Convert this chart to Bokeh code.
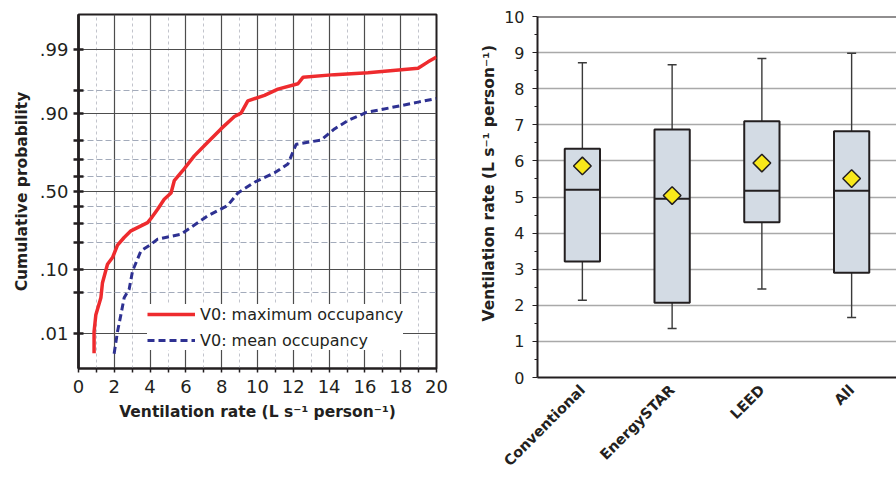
import math
from statistics import NormalDist

from bokeh.plotting import figure
from bokeh.layouts import row
from bokeh.models import (FixedTicker, Range1d, FactorRange, Legend,
                          LegendItem, ColumnDataSource, Span, Title)
from bokeh.embed import file_html
from bokeh.resources import INLINE

# ---------------- data: left panel (cumulative distributions) ----------------
max_occ_rate = [0.87, 0.87, 0.97, 1.25, 1.34, 1.62, 1.90, 2.18, 2.55, 2.93, 3.86, 4.05, 4.42,
                4.79, 5.17, 5.35, 5.82, 6.47, 7.22, 7.96, 8.71, 9.08, 9.46, 10.39, 11.14,
                12.26, 12.54, 14.3, 16.17, 18.97, 19.53, 20.0]
max_occ_prob = [0.0041, 0.011, 0.022, 0.041, 0.068, 0.117, 0.14, 0.19, 0.226, 0.26, 0.305, 0.33,
                0.386, 0.45, 0.49, 0.57, 0.633, 0.72, 0.79, 0.847, 0.89, 0.90, 0.931, 0.942,
                0.953, 0.961, 0.969, 0.972, 0.974, 0.978, 0.983, 0.986]

mean_occ_rate = [1.99, 2.18, 2.37, 2.55, 2.83, 3.02, 3.49, 4.05, 4.42, 5.17, 5.72, 6.28, 7.22,
                 8.34, 8.90, 9.83, 10.95, 11.70, 12.16, 13.56, 14.30, 15.05, 16.08, 18.04,
                 18.97, 20.0]
mean_occ_prob = [0.004, 0.011, 0.022, 0.041, 0.055, 0.097, 0.166, 0.194, 0.218, 0.232, 0.242,
                 0.278, 0.345, 0.41, 0.49, 0.56, 0.62, 0.674, 0.78, 0.80, 0.847, 0.877, 0.902,
                 0.92, 0.928, 0.936]

prob_major = [0.01, 0.10, 0.50, 0.90, 0.99]
prob_major_labels = [".01", ".10", ".50", ".90", ".99"]
prob_minor = [0.05, 0.20, 0.30, 0.40, 0.60, 0.70, 0.80, 0.95]
rate_ticks = list(range(0, 21, 2))
rate_minor = list(range(1, 20, 2))

# ---------------- data: right panel (box plots) ----------------
building_types = ["Conventional", "EnergySTAR", "LEED", "All"]
whisker_low = [2.14, 1.36, 2.45, 1.66]
quartile_1 = [3.21, 2.07, 4.30, 2.90]
median_rate = [5.20, 4.95, 5.17, 5.17]
quartile_3 = [6.34, 6.87, 7.10, 6.82]
whisker_high = [8.72, 8.66, 8.84, 8.98]
mean_rate = [5.86, 5.04, 5.94, 5.51]
box_ticks = list(range(0, 11))
box_minor = [v + 0.5 for v in range(0, 10)]

rate_title = "Ventilation rate (L s\u207b\u00b9 person\u207b\u00b9)"

FONT = "DejaVu Sans"
INK = "#231f20"
probit = NormalDist().inv_cdf

# ---------------- left panel ----------------
p1 = figure(width=460, height=477, x_range=Range1d(0, 20),
            y_range=Range1d(probit(0.0019), probit(0.9981)),
            output_backend="svg", toolbar_location=None, frame_align=False,
            min_border_left=78, min_border_right=24, min_border_top=14, min_border_bottom=109)
p1.background_fill_color = "white"
p1.outline_line_color = INK
p1.outline_line_width = 2

p1.xaxis.ticker = FixedTicker(ticks=rate_ticks, minor_ticks=rate_minor)
p1.yaxis.ticker = FixedTicker(ticks=[probit(v) for v in prob_major],
                              minor_ticks=[probit(v) for v in prob_minor])
p1.yaxis.major_label_overrides = {probit(v): lab for v, lab in zip(prob_major, prob_major_labels)}

for ax in (p1.xaxis[0], p1.yaxis[0]):
    ax.axis_line_color = INK
    ax.major_tick_line_color = INK
    ax.minor_tick_line_color = INK
    ax.major_label_text_font = FONT
    ax.major_label_text_font_size = "18px"
    ax.major_label_text_color = INK
    ax.axis_label_text_font = FONT
    ax.axis_label_text_font_style = "bold"
    ax.axis_label_text_font_size = "15.5px"
    ax.axis_label_text_color = INK

p1.xaxis.axis_label = rate_title
p1.xaxis.axis_line_width = 2
p1.xaxis.major_tick_in = 0
p1.xaxis.major_tick_out = 4
p1.xaxis.minor_tick_in = 0
p1.xaxis.minor_tick_out = 4
p1.xaxis.major_tick_line_width = 1.5
p1.xaxis.minor_tick_line_width = 1.5
p1.xaxis.major_label_standoff = 7
p1.xaxis.axis_label_standoff = 7

p1.yaxis.axis_label = "Cumulative probability"
p1.yaxis.axis_line_width = 2.7
p1.yaxis.major_tick_in = 5
p1.yaxis.major_tick_out = 5
p1.yaxis.minor_tick_in = 5
p1.yaxis.minor_tick_out = 5
p1.yaxis.major_tick_line_width = 2.5
p1.yaxis.minor_tick_line_width = 2.5
p1.yaxis.major_label_standoff = 5
p1.yaxis.axis_label_standoff = 6

p1.xgrid.grid_line_color = "#4d4d4d"
p1.xgrid.grid_line_width = 1.2
p1.xgrid.minor_grid_line_color = "#c2c4cc"
p1.xgrid.minor_grid_line_width = 1
p1.xgrid.minor_grid_line_dash = "3 3"
p1.ygrid.grid_line_color = "#4d4d4d"
p1.ygrid.grid_line_width = 1.2
p1.ygrid.minor_grid_line_color = "#a3abbb"
p1.ygrid.minor_grid_line_width = 1
p1.ygrid.minor_grid_line_dash = "6 3"

r_max = p1.line(max_occ_rate, [probit(v) for v in max_occ_prob],
                line_color="#ee2b2e", line_width=3.5)
r_mean = p1.line(mean_occ_rate, [probit(v) for v in mean_occ_prob],
                 line_color="#2e3192", line_width=3, line_dash="7 4")

legend = Legend(items=[LegendItem(label="V0: maximum occupancy", renderers=[r_max]),
                       LegendItem(label="V0: mean occupancy", renderers=[r_mean])],
                location=(69, 18), orientation="vertical",
                background_fill_color="white", background_fill_alpha=1.0,
                border_line_color=None, padding=5, spacing=6, margin=0,
                glyph_width=48, glyph_height=20, label_height=20, label_standoff=5,
                label_text_font=FONT, label_text_font_size="16px", label_text_color=INK)
p1.add_layout(legend)

# ---------------- right panel ----------------
p2 = figure(width=436, height=477, x_range=FactorRange(factors=building_types),
            y_range=Range1d(0, 10), output_backend="svg", toolbar_location=None,
            frame_align=False,
            min_border_left=77, min_border_right=0, min_border_top=16, min_border_bottom=99)
p2.outline_line_color = None
p2.xgrid.grid_line_color = None
p2.ygrid.grid_line_color = "#a9a9a9"
p2.ygrid.grid_line_width = 1.5

xa = p2.xaxis[0]
xa.axis_line_color = INK
xa.axis_line_width = 2
xa.major_tick_line_color = None
xa.minor_tick_line_color = None
xa.major_tick_in = 0
xa.major_tick_out = 0
xa.major_label_orientation = math.pi / 4
xa.major_label_standoff = 10
xa.major_label_text_font = FONT
xa.major_label_text_font_style = "bold"
xa.major_label_text_font_size = "14.5px"
xa.major_label_text_color = INK

ya = p2.yaxis[0]
ya.ticker = FixedTicker(ticks=box_ticks, minor_ticks=box_minor)
ya.axis_line_color = INK
ya.axis_line_width = 2
ya.major_tick_line_color = INK
ya.minor_tick_line_color = INK
ya.major_tick_in = 0
ya.major_tick_out = 5
ya.minor_tick_in = 0
ya.minor_tick_out = 3
ya.major_label_text_font = FONT
ya.major_label_text_font_size = "16px"
ya.major_label_text_color = INK
ya.major_label_standoff = 8

p2.add_layout(Title(text=rate_title, align="left", offset=56, standoff=8,
                    text_font=FONT, text_font_style="bold", text_font_size="15.5px",
                    text_color=INK), "left")

p2.add_layout(Span(location=10, dimension="width", line_color=INK, line_width=2))

box_src = ColumnDataSource(dict(cat=building_types, lo=whisker_low, q1=quartile_1,
                                med=median_rate, q3=quartile_3, hi=whisker_high,
                                mean=mean_rate))

p2.segment(x0="cat", y0="q3", x1="cat", y1="hi", source=box_src, line_color="#3a3a3a", line_width=1.4)
p2.segment(x0="cat", y0="lo", x1="cat", y1="q1", source=box_src, line_color="#3a3a3a", line_width=1.4)
p2.scatter(x="cat", y="hi", source=box_src, marker="dash", size=9, line_color="#3a3a3a", line_width=1.5)
p2.scatter(x="cat", y="lo", source=box_src, marker="dash", size=9, line_color="#3a3a3a", line_width=1.5)
p2.vbar(x="cat", top="q3", bottom="q1", width=0.393, source=box_src,
        fill_color="#d3dbe4", line_color=INK, line_width=2)
p2.scatter(x="cat", y="med", source=box_src, marker="dash", size=35, line_color=INK, line_width=2)
p2.scatter(x="cat", y="mean", source=box_src, marker="square", angle=math.pi / 4, size=12.5,
           fill_color="#f9e81a", line_color=INK, line_width=1.5)

layout = row(p1, p2)
open("out.html", "w").write(file_html(layout, INLINE))
